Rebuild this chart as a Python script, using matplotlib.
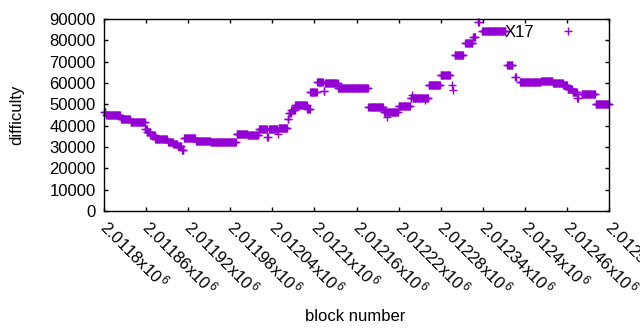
import matplotlib
matplotlib.use("Agg")
import matplotlib.pyplot as plt
import matplotlib.transforms as mtransforms
import numpy as np

plt.rcParams['font.family'] = ['Liberation Sans', 'DejaVu Sans']
plt.rcParams['mathtext.default'] = 'regular'

# difficulty runs: first block, last block, difficulty
run_first = [2011800, 2011803, 2011824, 2011838, 2011859, 2011862, 2011866, 2011873,
             2011891, 2011899, 2011905, 2011911, 2011914, 2011931, 2011952, 2011989,
             2012005, 2012021, 2012033, 2012035, 2012048, 2012049, 2012062, 2012064,
             2012067, 2012073, 2012090, 2012094, 2012104, 2012113, 2012115, 2012134,
             2012177, 2012199, 2012204, 2012205, 2012220, 2012237, 2012239, 2012240,
             2012258, 2012259, 2012263, 2012280, 2012296, 2012297, 2012300, 2012315,
             2012326, 2012333, 2012339, 2012375, 2012386, 2012393, 2012423, 2012440,
             2012455, 2012461, 2012468, 2012475, 2012481, 2012501]
run_last = [2011802, 2011823, 2011837, 2011858, 2011861, 2011865, 2011872, 2011890,
            2011898, 2011904, 2011910, 2011913, 2011930, 2011951, 2011988, 2012004,
            2012020, 2012032, 2012034, 2012047, 2012048, 2012061, 2012063, 2012066,
            2012072, 2012089, 2012093, 2012103, 2012112, 2012114, 2012133, 2012176,
            2012198, 2012203, 2012204, 2012219, 2012236, 2012238, 2012239, 2012257,
            2012258, 2012262, 2012279, 2012293, 2012296, 2012297, 2012312, 2012325,
            2012329, 2012334, 2012372, 2012382, 2012387, 2012422, 2012439, 2012454,
            2012460, 2012467, 2012474, 2012476, 2012500, 2012520]
run_diff = [46400, 45000, 43100, 41700, 38400, 37000, 35600, 33700,
            32300, 31400, 30500, 28600, 34200, 32800, 32300, 36100,
            35600, 38400, 34700, 38400, 36100, 38900, 43100, 45900,
            47300, 49700, 47800, 55800, 60500, 56300, 60000, 57700,
            48700, 46400, 44000, 46400, 49200, 53000, 54400, 53000,
            52000, 53000, 59000, 63700, 59000, 56700, 73100, 78700,
            81500, 88600, 84400, 68400, 62800, 60500, 61000, 60000,
            59000, 57200, 55800, 53000, 54800, 50200]

tick_blocks = [2011800, 2011860, 2011920, 2011980, 2012040, 2012100, 2012160,
               2012220, 2012280, 2012340, 2012400, 2012460, 2012520]
tick_labels = ["2.0118", "2.01186", "2.01192", "2.01198", "2.01204", "2.0121",
               "2.01216", "2.01222", "2.01228", "2.01234", "2.0124", "2.01246",
               "2.01252"]
y_ticks = [0, 10000, 20000, 30000, 40000, 50000, 60000, 70000, 80000, 90000]

purple = "#9400d3"

# one point per block, each run keeps its difficulty
blocks = []
diffs = []
for first, last, d in zip(run_first, run_last, run_diff):
    for b in range(first, last + 1):
        blocks.append(b)
        diffs.append(d)

fig = plt.figure(figsize=(6.4, 3.3), dpi=100)
ax = fig.add_axes([0.1625, 0.3606, 0.7891, 0.5818])
ax.plot(blocks, diffs, '+', color=purple, markersize=6, markeredgewidth=1.0,
        linestyle='none', label="X17", clip_on=False)

ax.set_xlim(2011800, 2012520)
ax.set_ylim(0, 90000)
ax.set_xticks(tick_blocks)
ax.set_xticklabels([t + r"x10$^{\,6}$" for t in tick_labels], rotation=-45,
                   ha='left', va='center', rotation_mode='anchor', fontsize=12)
shift = mtransforms.ScaledTranslation(0.03, 0, fig.dpi_scale_trans)
for lbl in ax.get_xticklabels():
    lbl.set_transform(lbl.get_transform() + shift)
ax.set_yticks(y_ticks)
ax.set_yticklabels([str(v) for v in y_ticks], fontsize=12)
ax.tick_params(direction='in', length=3, width=1, top=True, right=True, pad=6)
ax.tick_params(axis='x', pad=8.5)
for s in ax.spines.values():
    s.set_linewidth(1)

ax.set_xlabel("block number", fontsize=12)
ax.set_ylabel("difficulty", fontsize=12)
ax.xaxis.set_label_coords(0.498, -0.51)
ax.yaxis.set_label_coords(-0.158, 0.5)

ax.legend(loc='upper right', bbox_to_anchor=(0.968, 0.969), frameon=False,
          markerfirst=False, fontsize=12, handlelength=3, handletextpad=0.5,
          borderaxespad=0.0, borderpad=0.0)

fig.savefig("out.png", dpi=100)
